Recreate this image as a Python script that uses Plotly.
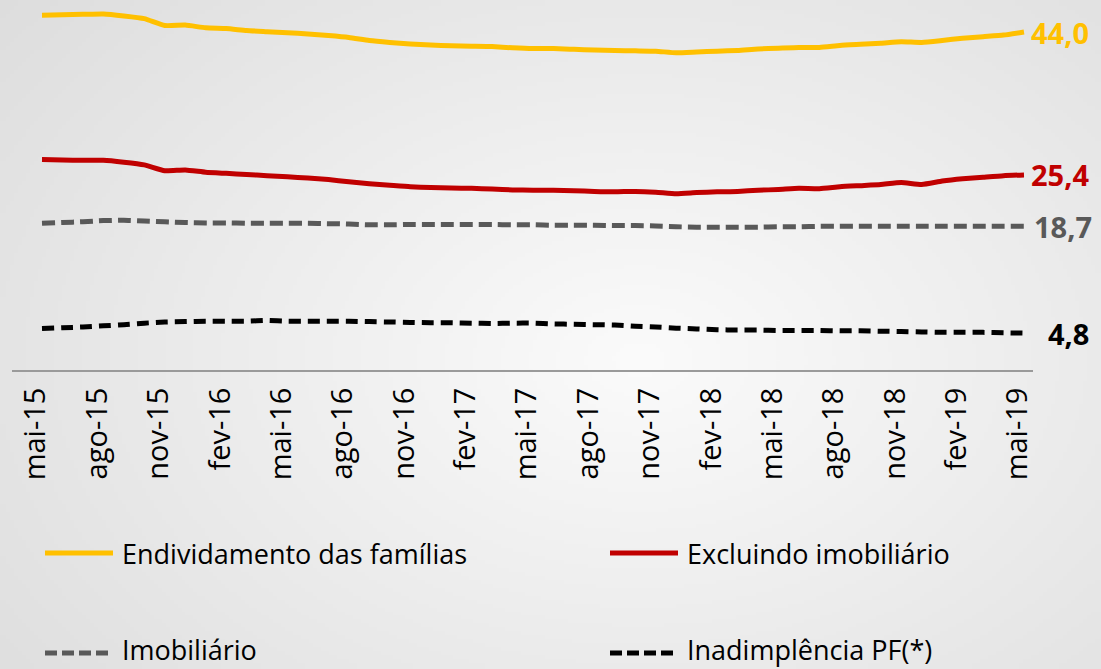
import base64, struct, zlib
import numpy as np
import plotly.graph_objects as go

# ---------------- data ----------------
month_abbr = ["jan", "fev", "mar", "abr", "mai", "jun", "jul", "ago", "set", "out", "nov", "dez"]
months = []
for k in range(49):
    m = (4 + k) % 12
    y = 15 + (4 + k) // 12
    months.append(f"{month_abbr[m]}-{y}")

endividamento = [46.2, 46.25, 46.3, 46.35, 46.1, 45.75, 44.85, 44.9, 44.55, 44.45,
                 44.2, 44.05, 43.9, 43.75, 43.55, 43.3, 42.9, 42.65, 42.45, 42.3,
                 42.2, 42.15, 42.1, 41.95, 41.85, 41.85, 41.75, 41.65, 41.6, 41.55,
                 41.5, 41.3, 41.4, 41.5, 41.6, 41.8, 41.9, 42.0, 42.0, 42.25,
                 42.4, 42.55, 42.75, 42.65, 42.9, 43.2, 43.4, 43.6, 44.0]
excluindo = [27.4, 27.35, 27.3, 27.3, 27.05, 26.7, 25.95, 26.05, 25.75, 25.6,
             25.45, 25.3, 25.15, 25.0, 24.8, 24.5, 24.25, 24.05, 23.85, 23.75,
             23.7, 23.65, 23.55, 23.45, 23.4, 23.4, 23.35, 23.25, 23.2, 23.25,
             23.15, 22.95, 23.1, 23.2, 23.25, 23.4, 23.5, 23.65, 23.6, 23.85,
             24.0, 24.15, 24.4, 24.15, 24.6, 24.9, 25.1, 25.3, 25.4]
imobiliario = [19.1, 19.2, 19.3, 19.45, 19.5, 19.4, 19.3, 19.2, 19.15, 19.15,
               19.1, 19.1, 19.1, 19.1, 19.05, 19.0, 18.9, 18.9, 18.95, 18.95,
               18.95, 18.95, 18.95, 18.9, 18.9, 18.85, 18.85, 18.85, 18.8, 18.8,
               18.75, 18.65, 18.6, 18.6, 18.6, 18.6, 18.65, 18.65, 18.7, 18.7,
               18.7, 18.7, 18.7, 18.7, 18.7, 18.7, 18.7, 18.7, 18.7]
inadimplencia = [5.4, 5.5, 5.6, 5.75, 5.9, 6.1, 6.25, 6.3, 6.35, 6.35,
                 6.35, 6.45, 6.35, 6.35, 6.35, 6.35, 6.3, 6.25, 6.2, 6.15,
                 6.15, 6.1, 6.05, 6.1, 6.1, 6.0, 5.95, 5.9, 5.85, 5.7,
                 5.6, 5.45, 5.35, 5.25, 5.2, 5.2, 5.15, 5.15, 5.15, 5.1,
                 5.1, 5.05, 5.0, 4.95, 4.9, 4.9, 4.9, 4.85, 4.8]

series_names = ["Endividamento das famílias", "Excluindo imobiliário", "Imobiliário", "Inadimplência PF(*)"]
series_values = [endividamento, excluindo, imobiliario, inadimplencia]
end_labels = ["44,0", "25,4", "18,7", "4,8"]
tick_labels = months[::3]

# ---------------- styles ----------------
colors = ["#FFC000", "#C00000", "#595959", "#000000"]
dashes = ["solid", "solid", "13px,6px", "12px,7px"]
label_shift = [5, 5, 8, 22]

W, H = 1101, 669
L, R, T, B = 12, 68, 0, 299
plot_w = W - L - R
plot_h = H - T - B


def px2paper(px, py):
    return (px - L) / plot_w, (H - B - py) / plot_h


# background gradient image
gw, gh = 276, 168
X = np.linspace(0, W, gw)[None, :]
Y = np.linspace(0, H, gh)[:, None]
d = np.sqrt(((X - 640) / 760.0) ** 2 + ((Y - 360) / 520.0) ** 2)
g = np.clip(251 - 27 * d, 200, 255).astype(np.uint8)


def make_png(arr):
    h, w = arr.shape
    raw = b"".join(b"\x00" + arr[r].tobytes() for r in range(h))

    def chunk(t, data):
        c = struct.pack(">I", len(data)) + t + data
        return c + struct.pack(">I", zlib.crc32(t + data) & 0xFFFFFFFF)

    return (b"\x89PNG\r\n\x1a\n" + chunk(b"IHDR", struct.pack(">IIBBBBB", w, h, 8, 0, 0, 0, 0))
            + chunk(b"IDAT", zlib.compress(raw, 9)) + chunk(b"IEND", b""))


bg_uri = "data:image/png;base64," + base64.b64encode(make_png(g)).decode()

fig = go.Figure()
for name, vals, col, dash in zip(series_names, series_values, colors, dashes):
    fig.add_trace(go.Scatter(
        x=months, y=vals, name=name, mode="lines",
        line=dict(color=col, width=5, dash=dash, shape="spline", smoothing=0.5),
        showlegend=False,
    ))

# end-of-line value labels
for vals, lab, col, sh in zip(series_values, end_labels, colors, label_shift):
    fig.add_annotation(x=months[-1], y=vals[-1], text=f"<b>{lab}</b>", showarrow=False,
                       xanchor="left", yanchor="middle", xshift=sh,
                       font=dict(family="Open Sans", size=29, color=col))

# manual legend (symbol y, text y)
legend_pos = [(45, 553, 553), (610, 553, 553), (45, 653, 649), (610, 653, 649)]
for (lx, ly, ty), name, col, dash in zip(legend_pos, series_names, colors, dashes):
    x0, y0 = px2paper(lx, ly)
    x1, _ = px2paper(lx + 68, ly)
    fig.add_shape(type="line", xref="paper", yref="paper", x0=x0, x1=x1, y0=y0, y1=y0,
                  line=dict(color=col, width=5, dash=("solid" if dash == "solid" else "12px,5px")))
    tx, tyy = px2paper(lx + 75, ty)
    fig.add_annotation(xref="paper", yref="paper", x=tx, y=tyy, text=name, showarrow=False,
                       xanchor="left", yanchor="middle",
                       font=dict(family="Open Sans", size=27, color="#000000"))

ix0, iy0 = px2paper(0, 0)
fig.add_layout_image(source=bg_uri, xref="paper", yref="paper", x=ix0, y=iy0,
                     sizex=W / plot_w, sizey=H / plot_h, xanchor="left", yanchor="top",
                     sizing="stretch", layer="below")

fig.update_layout(
    width=W, height=H,
    margin=dict(l=L, r=R, t=T, b=B, pad=0),
    paper_bgcolor="#ececec", plot_bgcolor="rgba(0,0,0,0)",
    font=dict(family="Open Sans", color="#000000"),
    xaxis=dict(type="category", range=[-1.466, 48.44], tickmode="array",
               tickvals=tick_labels, ticktext=tick_labels, tickangle=-90,
               tickfont=dict(size=29, color="#000000"), showgrid=False, zeroline=False,
               showline=True, linecolor="#9a9a9a", linewidth=2, ticks="",
               ticklabelshift=-6, ticklabelstandoff=4),
    yaxis=dict(range=[0, 48.17], visible=False, showgrid=False, zeroline=False),
)

fig.write_html("out.html", config={"displayModeBar": False},
               post_script="document.body.style.margin='0';document.body.style.padding='0';"
                           "document.body.style.overflow='hidden';")
